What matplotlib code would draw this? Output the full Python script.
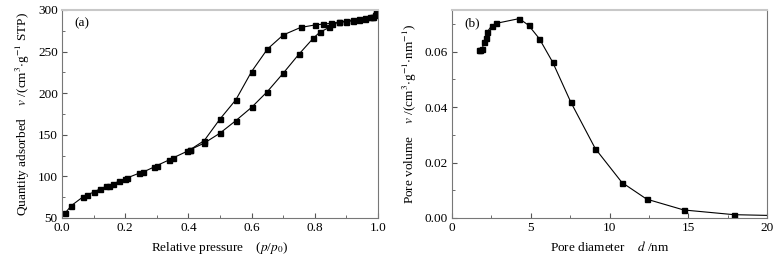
import numpy as np
import matplotlib
matplotlib.use('Agg')
from matplotlib import pyplot as plt
from matplotlib.ticker import MultipleLocator

plt.rcParams['font.family'] = ['Liberation Serif', 'DejaVu Serif']
plt.rcParams['mathtext.fontset'] = 'stix'
plt.rcParams['font.size'] = 9.5

# (a) N2 isotherm
ads_p = [0.01, 0.03, 0.065, 0.08, 0.1, 0.12, 0.14, 0.15, 0.16, 0.18, 0.2, 0.205,
         0.245, 0.255, 0.29, 0.30, 0.34, 0.35, 0.395, 0.405, 0.45, 0.5, 0.55, 0.6,
         0.65, 0.7, 0.75, 0.795, 0.815, 0.845, 0.855, 0.875, 0.9, 0.92, 0.94, 0.96,
         0.975, 0.985, 0.99, 0.995]
ads_v = [56, 65, 75, 78, 81, 85, 88, 89, 91, 94, 97, 98,
         104, 105, 111, 113, 120, 122, 130, 132, 140, 152, 167, 183,
         202, 224, 247, 266, 273, 279, 283, 285, 286, 287, 288, 289,
         291, 292, 294, 296]
des_p = [0.995, 0.98, 0.96, 0.94, 0.92, 0.9, 0.875, 0.85, 0.825, 0.8, 0.755,
         0.7, 0.65, 0.6, 0.55, 0.5, 0.45, 0.405]
des_v = [296, 292, 290, 289, 288, 287, 285, 284, 283, 282, 279,
         270, 253, 226, 192, 169, 143, 132]

# (b) pore size distribution
pore_d = [1.70, 1.80, 1.91, 2.04, 2.14, 2.25, 2.53, 2.82, 4.27, 4.86, 5.54,
          6.39, 7.54, 9.1, 10.79, 12.36, 14.71, 17.9]
pore_v = [0.0604, 0.0606, 0.0608, 0.0635, 0.0648, 0.0672, 0.0694, 0.0702,
          0.0719, 0.0695, 0.0647, 0.0562, 0.0418, 0.025, 0.0128, 0.0068,
          0.0029, 0.0012]
tail_d = [17.9, 22.0]
tail_v = [0.0012, 0.0007]

fig = plt.figure(figsize=(7.82, 2.63), dpi=100)
ax1 = fig.add_axes([62/782, 45/263, 316/782, 208/263])
ax2 = fig.add_axes([452/782, 45/263, 315/782, 208/263])

mk = dict(color='black', marker='s', markersize=3.6, linewidth=0.8)
ax1.plot(ads_p, ads_v, **mk)
ax1.plot(des_p, des_v, **mk)
ax1.set_xlim(0, 1.0)
ax1.set_ylim(50, 300)
ax1.xaxis.set_major_locator(MultipleLocator(0.2))
ax1.xaxis.set_minor_locator(MultipleLocator(0.1))
ax1.yaxis.set_major_locator(MultipleLocator(50))
ax1.yaxis.set_minor_locator(MultipleLocator(25))
ax1.xaxis.set_major_formatter(plt.FormatStrFormatter('%.1f'))
ax1.set_xlabel(r'Relative pressure    ($p$/$p_0$)', labelpad=4)
ax1.set_ylabel(r'Quantity adsorbed    $v$ /(cm$^3$$\cdot$g$^{-1}$ STP)', labelpad=4)
ax1.text(0.04, 0.92, '(a)', transform=ax1.transAxes)

ax2.plot(pore_d, pore_v, **mk)
ax2.plot(tail_d, tail_v, color='black', linewidth=0.8)
ax2.set_xlim(0, 20)
ax2.set_ylim(0, 0.075)
ax2.xaxis.set_major_locator(MultipleLocator(5))
ax2.xaxis.set_minor_locator(MultipleLocator(2.5))
ax2.yaxis.set_major_locator(MultipleLocator(0.02))
ax2.yaxis.set_minor_locator(MultipleLocator(0.01))
ax2.yaxis.set_major_formatter(plt.FormatStrFormatter('%.2f'))
ax2.set_xlabel(r'Pore diameter    $d$ /nm', labelpad=4)
ax2.set_ylabel(r'Pore volume    $v$ /(cm$^3$$\cdot$g$^{-1}$$\cdot$nm$^{-1}$)', labelpad=4)
ax2.text(0.04, 0.92, '(b)', transform=ax2.transAxes)

for ax in (ax1, ax2):
    for s in ('left', 'bottom', 'right'):
        ax.spines[s].set_color('#777777')
    ax.spines['top'].set_color('#c8c8c8')
    ax.spines['top'].set_linewidth(1.5)
    ax.tick_params(which='both', direction='in', color='#555555', top=False, right=False)
    ax.tick_params(which='major', length=3.5)
    ax.tick_params(which='minor', length=2)
    ax.tick_params(axis='x', pad=3)
    ax.tick_params(axis='y', pad=3)

fig.savefig('out.png', dpi=100)
